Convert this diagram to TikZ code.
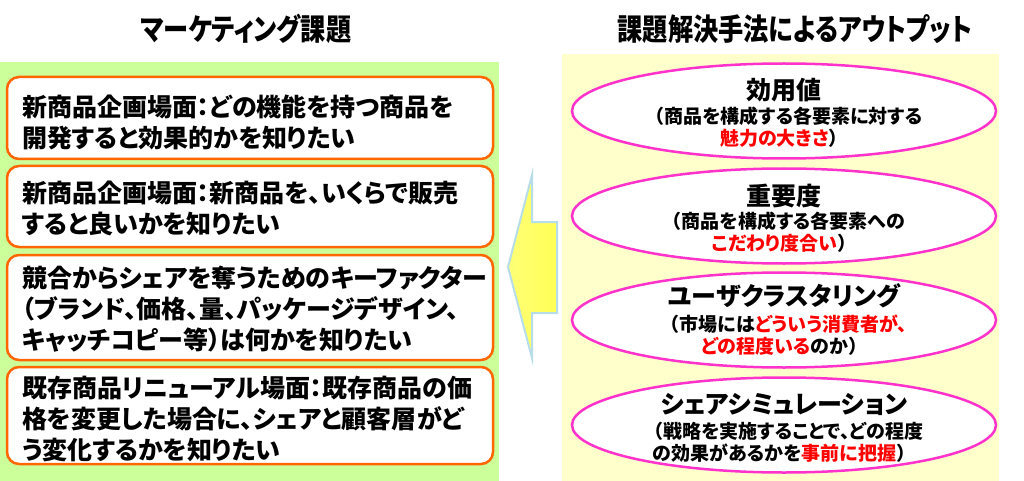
\documentclass[tikz,border=0pt]{standalone}
\usepackage{fontspec}
\usetikzlibrary{shapes.geometric}
\newfontfamily\jp{Noto Sans CJK JP}[RawFeature=+palt]
\newfontfamily\jpfull{Noto Sans CJK JP}
\newcommand\lpar{{\jpfull\bfseries （}}
\newcommand\rpar{{\jpfull\bfseries ）}}
\definecolor{greenbg}{RGB}{204,255,153}
\definecolor{yellowbg}{RGB}{255,255,204}
\definecolor{borange}{RGB}{255,102,0}
\definecolor{bmag}{RGB}{255,51,204}
\definecolor{arrline}{RGB}{183,221,232}
\definecolor{arryel}{RGB}{255,255,85}
\definecolor{hired}{RGB}{255,0,0}
\begin{document}
\begin{tikzpicture}[x=1pt,y=-1pt,
  task/.style={draw=borange, line width=2.5pt, fill=white, rounded corners=12pt, minimum width=486pt, inner sep=0pt},
  tasktext/.style={anchor=west, align=left, font=\jp\bfseries\fontsize{25}{31}\selectfont, inner sep=0pt},
  outell/.style={ellipse, draw=bmag, line width=2.5pt, fill=white, minimum width=424pt, minimum height=95pt, inner sep=0pt},
  outtitle/.style={font=\jp\bfseries\fontsize{25}{28}\selectfont, inner sep=0pt},
  outsub/.style={font=\jp\bfseries\fontsize{19}{22}\selectfont, align=center, inner sep=0pt},
  heading/.style={font=\jp\bfseries\fontsize{30}{34}\selectfont, inner sep=0pt},
  arrowshape/.style={draw=arrline, line width=2pt, line join=miter, left color=arryel!80, right color=arryel}]
\useasboundingbox (0,0) rectangle (1024,481);
\fill[white] (0,0) rectangle (1024,481);
\fill[greenbg] (0,62) rectangle (499,481);
\fill[yellowbg] (562,54) rectangle (999,481);

\node[heading] (h1) at (246,29) {\scalebox{0.84}[1]{マーケティング課題}};
\node[heading] (h2) at (795,29) {\scalebox{0.84}[1]{課題解決手法によるアウトプット}};

\node[task, minimum height=82pt] (t1) at (250,118) {};
\node[task, minimum height=81pt] (t2) at (250,206.5) {};
\node[task, minimum height=105pt] (t3) at (250,307.5) {};
\node[task, minimum height=97pt] (t4) at (250,415.5) {};

\node[tasktext] (t1x) at (22,122) {新商品企画場面：どの機能を持つ商品を\\開発すると効果的かを知りたい};
\node[tasktext] (t2x) at (22,208) {新商品企画場面：新商品を、いくらで販売\\すると良いかを知りたい};
\node[tasktext] (t3x) at (22,309) {競合からシェアを奪うためのキーファクター\\（ブランド、価格、量、パッケージデザイン、\\キャッチコピー等）は何かを知りたい};
\node[tasktext] (t4x) at (22,419) {既存商品リニューアル場面：既存商品の価\\格を変更した場合に、シェアと顧客層がど\\う変化するかを知りたい};

\node[outell] (e1) at (784,111) {};
\node[outell] (e2) at (784,216) {};
\node[outell] (e3) at (784,320) {};
\node[outell] (e4) at (784,425) {};

\node[outtitle] (e1t) at (784,90) {効用値};
\node[outsub] (e1s) at (784,127) {\lpar 商品を構成する各要素に対する\\\textcolor{hired}{魅力の大きさ}\rpar};
\node[outtitle] (e2t) at (784,196) {重要度};
\node[outsub] (e2s) at (784,232) {\lpar 商品を構成する各要素への\\\textcolor{hired}{こだわり度合い}\rpar};
\node[outtitle] (e3t) at (784,296) {ユーザクラスタリング};
\node[outsub] (e3s) at (784,335) {\lpar 市場には\textcolor{hired}{どういう消費者が、}\\\textcolor{hired}{どの程度いる}のか\rpar};
\node[outtitle] (e4t) at (784,404) {シェアシミュレーション};
\node[outsub] (e4s) at (784,442) {\lpar 戦略を実施することで、どの程度\\の効果があるかを\textcolor{hired}{事前に把握}\rpar};

\draw[arrowshape] (508,267) -- (532,175) -- (532,222) -- (557,222) -- (557,313) -- (532,313) -- (532,358) -- cycle;
\end{tikzpicture}
\end{document}
